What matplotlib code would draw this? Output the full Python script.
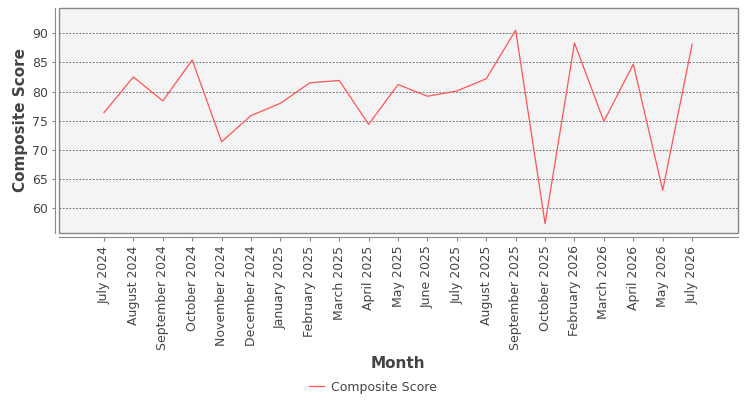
import matplotlib
matplotlib.use("Agg")
import matplotlib.pyplot as plt
from matplotlib.patches import Rectangle

months = ["July 2024", "August 2024", "September 2024", "October 2024", "November 2024",
          "December 2024", "January 2025", "February 2025", "March 2025", "April 2025",
          "May 2025", "June 2025", "July 2025", "August 2025", "September 2025",
          "October 2025", "February 2026", "March 2026", "April 2026", "May 2026", "July 2026"]
scores = [76.4, 82.5, 78.4, 85.4, 71.4, 75.9, 78.0, 81.5, 81.9, 74.4,
          81.2, 79.2, 80.1, 82.2, 90.5, 57.4, 88.3, 74.9, 84.7, 63.1, 88.1]
yticks = [60, 65, 70, 75, 80, 85, 90]

plt.rcParams['font.family'] = ['DejaVu Sans']
fig = plt.figure(figsize=(7.5, 4), dpi=100)
ax = fig.add_axes([59/750, 1-233/400, (738-59)/750, (233-8)/400])
ax.set_facecolor('#f4f4f4')

x = list(range(len(months)))
line, = ax.plot(x, scores, color='#ff5555', linewidth=0.9, label='Composite Score')

ax.set_xlim(-1.53, len(months) - 1 + 1.56)
ax.set_ylim(55.8, 94.3)
ax.set_yticks(yticks)
ax.set_xticks(x)
ax.set_xticklabels(months)
ax.tick_params(axis='y', labelsize=9, labelcolor='#444444', length=2, color='#888888', pad=3)
ax.tick_params(axis='x', length=3, color='#888888', pad=3, labelsize=9,
               labelcolor='#444444', labelrotation=90)

ax.grid(axis='y', color='#555555', linestyle=(0, (2, 2)), linewidth=0.6)
ax.set_axisbelow(True)

for s in ['top', 'right']:
    ax.spines[s].set_visible(False)
ax.spines['left'].set_position(('outward', 3))
ax.spines['bottom'].set_position(('outward', 3))
ax.spines['left'].set_color('#888888')
ax.spines['bottom'].set_color('#888888')
ax.add_patch(Rectangle((0, 0), 1, 1, transform=ax.transAxes, fill=False,
                       edgecolor='#888888', linewidth=1.0, clip_on=False, zorder=5))

ax.set_ylabel('Composite Score', fontsize=11, fontweight='semibold', color='#444444', labelpad=3)
fig.text(398/750, 1-364/400, 'Month', ha='center', va='center', fontsize=11,
         fontweight='semibold', color='#444444')

fig.legend(handles=[line], loc='center', bbox_to_anchor=(373/750, 1-387/400), frameon=False,
           fontsize=9, labelcolor='#444444', handlelength=1.2, handletextpad=0.5)

fig.savefig('out.png', dpi=100)
